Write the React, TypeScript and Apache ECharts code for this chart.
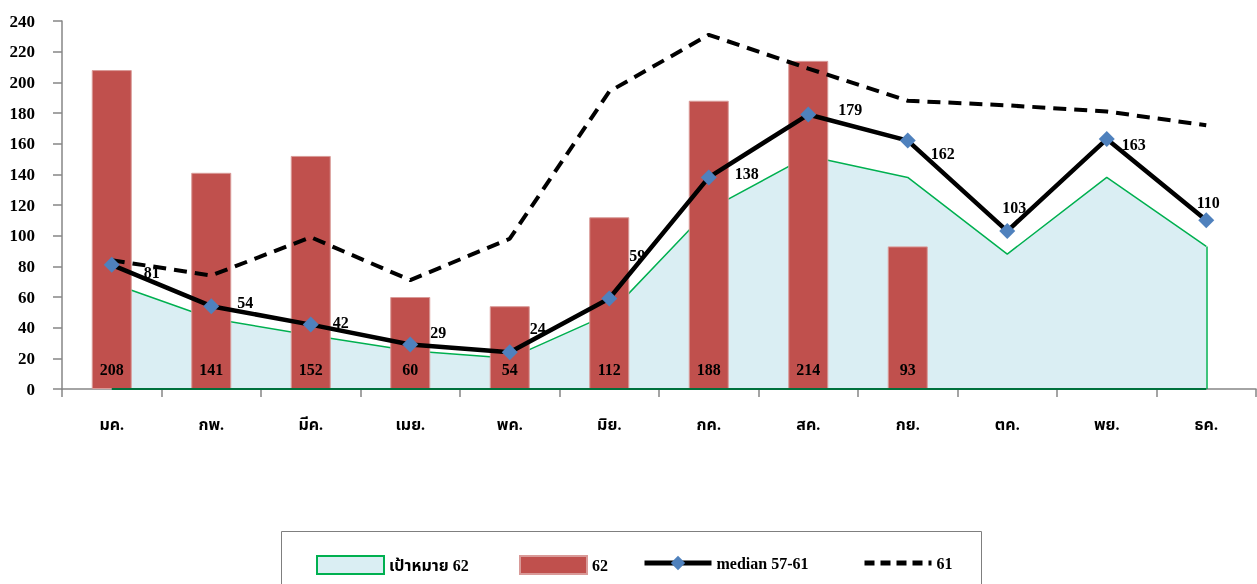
import React, { useEffect, useRef } from "react";
import * as echarts from "echarts";

const categories = ["มค.", "กพ.", "มีค.", "เมย.", "พค.", "มิย.", "กค.", "สค.", "กย.", "ตค.", "พย.", "ธค."];
const target62 = [69, 46, 35, 25, 20, 49, 117, 152, 138, 88, 138, 93];
const actual62: (number | null)[] = [208, 141, 152, 60, 54, 112, 188, 214, 93, null, null, null];
const median5761 = [81, 54, 42, 29, 24, 59, 138, 179, 162, 103, 163, 110];
const year61 = [84, 74, 99, 71, 98, 194, 231, 209, 188, 185, 181, 172];
const seriesNames = ["เป้าหมาย 62", "62", "median 57-61", "61"];
const yTicks = { min: 0, max: 240, interval: 20 };

// label placement (style) for the median labels, in pixels relative to the marker
const medianLabelOffsets: [number, number][] = [
  [40, 8], [34, -4], [30, -2], [28, -12], [28, -24], [28, -43],
  [38, -4], [42, -5], [35, 13], [7, -24], [27, 5], [2, -18],
];
// legend item left positions (style)
const legendLefts = [311, 514, 637, 857];

const FONT = "'Liberation Serif', 'Times New Roman', 'Noto Sans Thai', serif";

export default function App() {
  const ref = useRef<HTMLDivElement>(null);
  useEffect(() => {
    if (!ref.current) return;
    const chart = echarts.init(ref.current, undefined, { renderer: "svg" });
    const labelStyle = { color: "#000", fontWeight: "bold" as const, fontSize: 16, fontFamily: FONT };
    const legendItems: any[] = [
      {
        name: seriesNames[0],
        icon: "rect",
        itemStyle: { color: "#DAEEF3", borderColor: "#00B050", borderWidth: 2 },
      },
      { name: seriesNames[1], icon: "rect" },
      { name: seriesNames[2], lineStyle: { width: 5 } },
      { name: seriesNames[3], lineStyle: { width: 5, type: [10, 6] }, itemStyle: { opacity: 0 } },
    ];
    chart.setOption({
      animation: false,
      textStyle: { fontFamily: FONT },
      grid: { left: 62, right: 1, top: 21, bottom: 195, containLabel: false },
      graphic: [
        {
          type: "rect",
          shape: { x: 281.5, y: 531.5, width: 700, height: 80 },
          style: { fill: "none", stroke: "#7f7f7f", lineWidth: 1 },
          z: 0,
        },
      ],
      legend: legendItems.map((item, i) => ({
        left: legendLefts[i],
        top: 550,
        itemWidth: 67,
        itemHeight: 18,
        textStyle: { ...labelStyle },
        data: [item],
      })),
      xAxis: {
        type: "category",
        data: categories,
        boundaryGap: true,
        axisLine: { lineStyle: { color: "#868686", width: 1.5 } },
        axisTick: { show: true, length: 8, interval: 0, lineStyle: { color: "#868686", width: 1.5 } },
        axisLabel: { ...labelStyle, interval: 0, margin: 27 },
        splitLine: { show: false },
      },
      yAxis: {
        type: "value",
        min: yTicks.min,
        max: yTicks.max,
        interval: yTicks.interval,
        axisLine: { show: true, lineStyle: { color: "#868686", width: 1.5 } },
        axisTick: { show: true, length: 9, lineStyle: { color: "#868686", width: 1.5 } },
        axisLabel: { ...labelStyle, fontSize: 17, margin: 27 },
        splitLine: { show: false },
      },
      series: [
        {
          name: seriesNames[0],
          type: "line",
          data: target62,
          symbol: "none",
          lineStyle: { color: "#00B050", width: 1.5 },
          itemStyle: { color: "#DAEEF3" },
          areaStyle: { color: "#DAEEF3", opacity: 1 },
          z: 1,
          markLine: {
            silent: true,
            symbol: "none",
            label: { show: false },
            lineStyle: { color: "#00B050", type: "solid", width: 1.5 },
            data: [
              [
                { coord: [categories[categories.length - 1], 0] },
                { coord: [categories[categories.length - 1], target62[target62.length - 1]] },
              ],
              [
                { coord: [categories[0], 0], lineStyle: { color: "#00703C", width: 2, type: "solid" } },
                { coord: [categories[categories.length - 1], 0] },
              ],
            ],
          },
        },
        {
          name: seriesNames[1],
          type: "bar",
          data: actual62,
          barWidth: 40,
          itemStyle: { color: "#C0504D", borderColor: "#D99A98", borderWidth: 1 },
          label: { show: true, position: "insideBottom", distance: 12, ...labelStyle },
          z: 2,
        },
        {
          name: seriesNames[2],
          type: "line",
          data: median5761.map((v, i) => ({
            value: v,
            label: { offset: medianLabelOffsets[i] },
          })),
          symbol: "diamond",
          symbolSize: 16,
          lineStyle: { color: "#000", width: 4.5 },
          itemStyle: { color: "#4F81BD" },
          label: { show: true, position: "inside", ...labelStyle },
          z: 4,
        },
        {
          name: seriesNames[3],
          type: "line",
          data: year61,
          symbol: "none",
          lineStyle: { color: "#000", width: 4, type: [13, 8] },
          itemStyle: { color: "#000" },
          z: 3,
        },
      ],
    });
    return () => chart.dispose();
  }, []);
  return <div ref={ref} style={{ position: "fixed", left: 0, top: 0, width: 1257, height: 584 }} />;
}
